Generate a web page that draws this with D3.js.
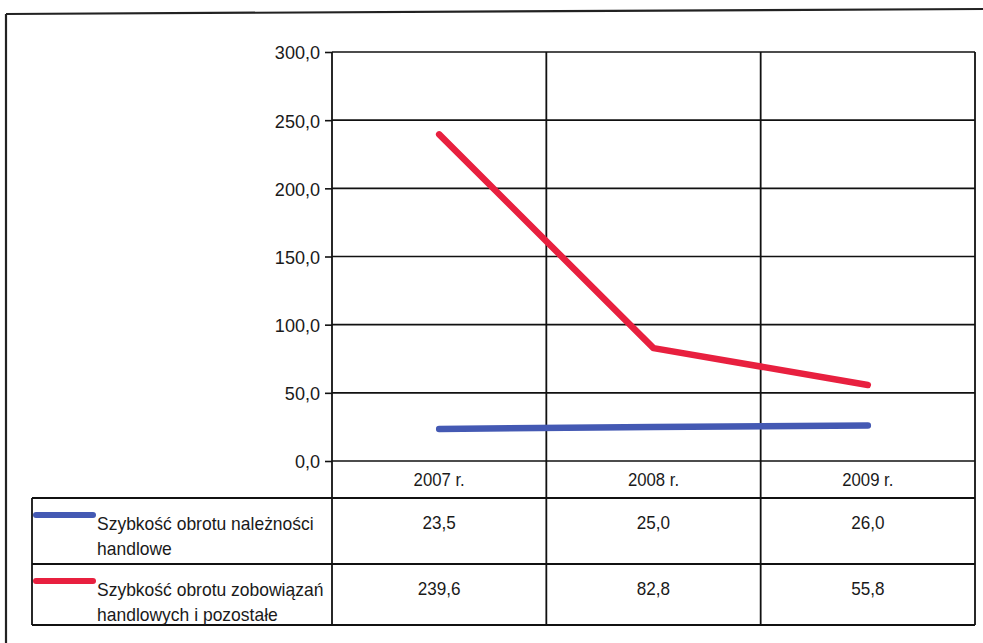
<!DOCTYPE html>
<html><head><meta charset="utf-8">
<script src="https://cdn.jsdelivr.net/npm/d3@7/dist/d3.min.js"></script>
<style>
html,body{margin:0;padding:0;background:#fff;}
svg text{font-family:"Liberation Sans",Arial,sans-serif;fill:#1a1a1a;}
</style></head>
<body><svg id="c" width="983" height="643"></svg>
<script>
const categories = ["2007 r.", "2008 r.", "2009 r."];
const seriesNames = [
  ["Szybkość obrotu należności", "handlowe"],
  ["Szybkość obrotu zobowiązań", "handlowych i pozostałe"]
];
const receivables = [23.5, 25.0, 26.0];
const liabilities = [239.6, 82.8, 55.8];
const seriesColors = ["#4459b3", "#e8203f"];
const yTicks = [0, 50, 100, 150, 200, 250, 300];

const series = [receivables, liabilities];
const svg = d3.select("#c");
const fmt = v => d3.format(".1f")(v).replace(".", ",");

// condense text horizontally (reference uses a narrow face)
function narrow(sel, f) {
  sel.each(function () {
    const w = this.getComputedTextLength();
    d3.select(this).attr("textLength", w * f).attr("lengthAdjust", "spacingAndGlyphs");
  });
}

const L = 332, R = 975, T = 52, B = 461;
const x = d3.scaleBand().domain(categories).range([L, R]).padding(0);
const y = d3.scaleLinear().domain([0, 300]).range([B, T]);

// outer frame
svg.append("line").attr("x1", 6).attr("y1", 14).attr("x2", 983).attr("y2", 9)
  .attr("stroke", "#222").attr("stroke-width", 2.2);
svg.append("line").attr("x1", 6).attr("y1", 14).attr("x2", 6).attr("y2", 643)
  .attr("stroke", "#222").attr("stroke-width", 2.2);

// horizontal gridlines
svg.append("g").selectAll("line").data(yTicks).join("line")
  .attr("x1", L).attr("x2", R).attr("y1", d => y(d)).attr("y2", d => y(d))
  .attr("stroke", "#111").attr("stroke-width", 1.6);

// y axis
const yAxis = d3.axisLeft(y).tickValues(yTicks).tickFormat(fmt).tickSize(7).tickPadding(5);
const ga = svg.append("g").attr("transform", `translate(${L},0)`).call(yAxis);
ga.select(".domain").remove();
ga.selectAll(".tick line").attr("stroke", "#111").attr("stroke-width", 1.6);
ga.selectAll(".tick text").attr("font-size", 19).attr("dy", "0.36em")
  .style("font-family", '"Liberation Sans",Arial,sans-serif').attr("fill", "#1a1a1a")
  .call(narrow, 0.95);

// table geometry
const rowTop = [B, 498, 564], rowBot = 625, tableLeft = 32;

// vertical lines (category boundaries) through plot and table
const bounds = [L, ...categories.map(c => x(c) + x.bandwidth())];
svg.append("g").selectAll("line").data(bounds).join("line")
  .attr("x1", d => d).attr("x2", d => d).attr("y1", T).attr("y2", rowBot)
  .attr("stroke", "#111").attr("stroke-width", 1.8);

// table horizontal lines
[rowTop[1], rowTop[2], rowBot].forEach(yy => {
  svg.append("line").attr("x1", tableLeft).attr("x2", R).attr("y1", yy).attr("y2", yy)
    .attr("stroke", "#111").attr("stroke-width", 1.8);
});
svg.append("line").attr("x1", tableLeft).attr("x2", tableLeft).attr("y1", rowTop[1]).attr("y2", rowBot)
  .attr("stroke", "#111").attr("stroke-width", 1.8);

// category labels
svg.append("g").selectAll("text").data(categories).join("text")
  .attr("x", d => x(d) + x.bandwidth() / 2).attr("y", 486)
  .attr("text-anchor", "middle").attr("font-size", 19).text(d => d)
  .call(narrow, 0.88);

// lines
const line = d3.line().x((d, i) => x(categories[i]) + x.bandwidth() / 2).y(d => y(d));
series.forEach((s, k) => {
  svg.append("path").datum(s).attr("d", line).attr("fill", "none")
    .attr("stroke", seriesColors[k]).attr("stroke-width", 6.5)
    .attr("stroke-linecap", "round").attr("stroke-linejoin", "round");
});

// table rows
series.forEach((s, k) => {
  const top = rowTop[k + 1];
  svg.append("line").attr("x1", 36).attr("x2", 93).attr("y1", top + 17).attr("y2", top + 17)
    .attr("stroke", seriesColors[k]).attr("stroke-width", 6).attr("stroke-linecap", "round");
  seriesNames[k].forEach((ln, j) => {
    svg.append("text").attr("x", 97).attr("y", top + 32 + j * 25)
      .attr("font-size", 19).text(ln).call(narrow, 0.92);
  });
  svg.append("g").selectAll("text").data(s).join("text")
    .attr("x", (d, i) => x(categories[i]) + x.bandwidth() / 2).attr("y", top + 31)
    .attr("text-anchor", "middle").attr("font-size", 19).text(d => fmt(d))
    .call(narrow, 0.9);
});
</script></body></html>
